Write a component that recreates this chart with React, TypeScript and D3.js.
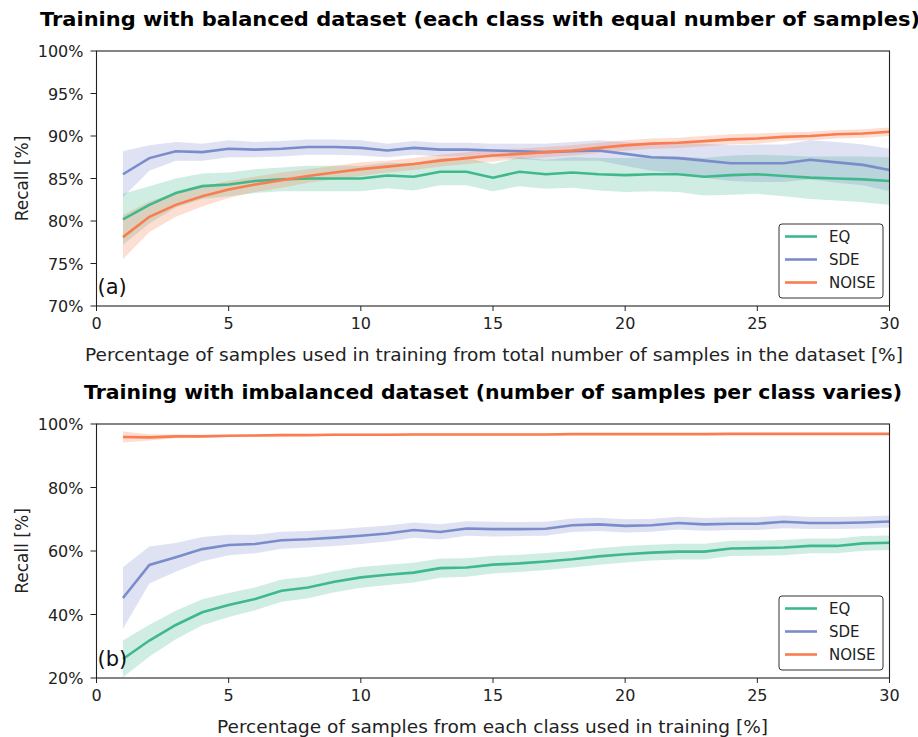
import React from "react";
import * as d3 from "d3";

// Percentage of samples used for training
const xs = d3.range(1, 31);

// Balanced dataset: mean recall [%] and spread per training fraction
const balEQ = [80.2, 81.9, 83.3, 84.1, 84.3, 84.7, 84.9, 85.0, 85.0, 85.0, 85.35, 85.2, 85.8, 85.8, 85.1,
  85.8, 85.5, 85.7, 85.5, 85.4, 85.5, 85.5, 85.2, 85.4, 85.5, 85.3, 85.1, 85.0, 84.9, 84.7];
const balEQStd = [3.0, 2.2, 1.7, 1.5, 1.4, 1.4, 1.4, 1.5, 1.5, 1.5, 1.5, 1.6, 1.6, 1.6, 1.6,
  1.7, 1.7, 1.8, 1.9, 2.0, 2.0, 2.1, 2.2, 2.3, 2.3, 2.4, 2.5, 2.6, 2.7, 2.8];
const balSDE = [85.5, 87.4, 88.2, 88.1, 88.5, 88.4, 88.5, 88.7, 88.7, 88.6, 88.3, 88.6, 88.4, 88.4, 88.3,
  88.2, 88.1, 88.2, 88.3, 87.9, 87.5, 87.4, 87.1, 86.8, 86.8, 86.8, 87.2, 86.9, 86.6, 86.0];
const balSDEStd = [2.7, 1.5, 1.1, 1.0, 1.0, 0.9, 0.9, 0.9, 0.9, 0.9, 0.8, 0.8, 0.8, 0.8, 0.8,
  0.9, 1.0, 1.1, 1.2, 1.4, 1.6, 1.8, 2.0, 2.1, 2.2, 2.2, 2.3, 2.4, 2.4, 2.5];
const balNOISE = [78.1, 80.5, 81.9, 82.9, 83.7, 84.3, 84.8, 85.3, 85.7, 86.1, 86.4, 86.7, 87.1, 87.4, 87.7,
  87.9, 88.1, 88.3, 88.6, 88.9, 89.1, 89.2, 89.4, 89.6, 89.7, 89.9, 90.0, 90.2, 90.3, 90.5];
const balNOISEStd = [2.6, 1.8, 1.4, 1.2, 1.0, 0.9, 0.9, 0.8, 0.8, 0.8, 0.7, 0.7, 0.7, 0.7, 0.7,
  0.6, 0.6, 0.6, 0.6, 0.6, 0.6, 0.6, 0.6, 0.6, 0.6, 0.5, 0.5, 0.5, 0.5, 0.5];

// Imbalanced dataset
const impEQ = [26.0, 31.8, 36.7, 40.7, 43.0, 44.9, 47.5, 48.5, 50.3, 51.7, 52.5, 53.2, 54.6, 54.8, 55.7,
  56.1, 56.7, 57.4, 58.3, 59.0, 59.5, 59.8, 59.8, 60.8, 60.9, 61.1, 61.6, 61.6, 62.4, 62.6];
const impEQStd = [5.8, 5.0, 4.5, 4.1, 3.8, 3.6, 3.5, 3.4, 3.3, 3.3, 3.2, 3.1, 3.0, 2.9, 2.8,
  2.7, 2.7, 2.6, 2.6, 2.6, 2.5, 2.5, 2.5, 2.4, 2.4, 2.4, 2.3, 2.3, 2.3, 2.3];
const impSDE = [45.2, 55.6, 58.0, 60.6, 61.9, 62.2, 63.4, 63.7, 64.2, 64.8, 65.5, 66.6, 66.0, 67.1, 66.9,
  66.9, 67.0, 68.1, 68.4, 67.9, 68.1, 68.8, 68.4, 68.6, 68.6, 69.2, 68.8, 68.8, 69.0, 69.3];
const impSDEStd = [9.7, 5.8, 4.5, 3.8, 3.2, 2.9, 2.7, 2.6, 2.6, 2.6, 2.5, 2.4, 2.4, 2.3, 2.3,
  2.2, 2.2, 2.1, 2.1, 2.1, 2.0, 2.0, 2.0, 2.0, 2.0, 2.0, 1.9, 1.9, 1.9, 1.9];
const impNOISE = [95.9, 95.8, 96.1, 96.1, 96.3, 96.4, 96.5, 96.5, 96.6, 96.6, 96.6, 96.7, 96.7, 96.7, 96.7,
  96.7, 96.7, 96.8, 96.8, 96.8, 96.8, 96.8, 96.8, 96.9, 96.9, 96.9, 96.9, 96.9, 96.9, 96.9];
const impNOISEStd = [1.7, 1.0, 0.6, 0.5, 0.4, 0.4, 0.4, 0.3, 0.3, 0.3, 0.3, 0.3, 0.3, 0.3, 0.3,
  0.3, 0.3, 0.3, 0.3, 0.3, 0.3, 0.3, 0.3, 0.3, 0.3, 0.3, 0.3, 0.3, 0.3, 0.3];

const seriesNames = ["EQ", "SDE", "NOISE"];
const colors = ["#3fb98b", "#7a8dca", "#f97d50"];

const xTicks = [0, 5, 10, 15, 20, 25, 30];
const topYTicks = [70, 75, 80, 85, 90, 95, 100];
const bottomYTicks = [20, 40, 60, 80, 100];

const FONT = "DejaVu Sans, sans-serif";

type Series = { name: string; mean: number[]; std: number[]; color: string };

function Panel(props: {
  id: string;
  top: number;
  bottom: number;
  yDomain: [number, number];
  yTicks: number[];
  series: Series[];
  tag: string;
  title: string;
  titleX: number;
  titleW: number;
  xlabel: string;
  xlabelX: number;
  xlabelW: number;
  legendY: number;
}) {
  const left = 96.5;
  const right = 889.5;
  const x = d3.scaleLinear().domain([0, 30]).range([left, right]);
  const y = d3.scaleLinear().domain(props.yDomain).range([props.bottom, props.top]);
  const line = d3
    .line<number>()
    .x((_, i) => x(xs[i]))
    .y((d) => y(d));
  const band = (s: Series) =>
    d3
      .area<number>()
      .x((_, i) => x(xs[i]))
      .y0((d, i) => y(d - s.std[i]))
      .y1((d, i) => y(d + s.std[i]))(s.mean) || "";

  const midY = (props.top + props.bottom) / 2;
  return (
    <g>
      <defs>
        <clipPath id={props.id}>
          <rect x={left} y={props.top} width={right - left} height={props.bottom - props.top} />
        </clipPath>
      </defs>
      <text
        x={props.titleX}
        y={props.top - 25}
        fontFamily={FONT}
        fontWeight="bold"
        fontSize={19}
        textLength={props.titleW}
        lengthAdjust="spacingAndGlyphs"
      >
        {props.title}
      </text>
      <g clipPath={`url(#${props.id})`}>
        {props.series.map((s) => (
          <path key={s.name + "b"} d={band(s)} fill={s.color} fillOpacity={0.25} stroke="none" />
        ))}
        {props.series.map((s) => (
          <path key={s.name + "l"} d={line(s.mean) || ""} fill="none" stroke={s.color} strokeWidth={2.6} />
        ))}
      </g>
      <rect
        x={left}
        y={props.top}
        width={right - left}
        height={props.bottom - props.top}
        fill="none"
        stroke="#222"
        strokeWidth={1.1}
      />
      {xTicks.map((t) => (
        <g key={"x" + t}>
          <line x1={x(t)} x2={x(t)} y1={props.bottom} y2={props.bottom + 5} stroke="#222" strokeWidth={1} />
          <text x={x(t)} y={props.bottom + 22.5} textAnchor="middle" fontFamily={FONT} fontSize={16} fill="#222">
            {t}
          </text>
        </g>
      ))}
      {props.yTicks.map((t) => (
        <g key={"y" + t}>
          <line x1={left - 6} x2={left} y1={y(t)} y2={y(t)} stroke="#222" strokeWidth={1} />
          <text x={left - 13} y={y(t) + 6} textAnchor="end" fontFamily={FONT} fontSize={16} fill="#222">
            {t}%
          </text>
        </g>
      ))}
      <text x={left + 1} y={props.bottom - 12} fontFamily={FONT} fontSize={21} fill="#111">
        {props.tag}
      </text>
      <text
        transform={`translate(28,${midY}) rotate(-90)`}
        textAnchor="middle"
        fontFamily={FONT}
        fontSize={17}
        fill="#222"
      >
        Recall [%]
      </text>
      <text
        x={props.xlabelX}
        y={props.bottom + 55}
        fontFamily={FONT}
        fontSize={18}
        fill="#222"
        textLength={props.xlabelW}
        lengthAdjust="spacingAndGlyphs"
      >
        {props.xlabel}
      </text>
      <g transform={`translate(779,${props.legendY})`}>
        <rect x={0} y={0} width={104} height={74} rx={3} fill="#fff" fillOpacity={0.85} stroke="#333" strokeWidth={1} />
        {props.series.map((s, i) => (
          <g key={s.name + "leg"} transform={`translate(0,${12.5 + i * 23})`}>
            <line x1={6} x2={38} y1={0} y2={0} stroke={s.color} strokeWidth={2.6} />
            <text x={50} y={5.5} fontFamily={FONT} fontSize={15} fill="#222">
              {s.name}
            </text>
          </g>
        ))}
      </g>
    </g>
  );
}

export default function App() {
  const balanced: Series[] = [
    { name: seriesNames[0], mean: balEQ, std: balEQStd, color: colors[0] },
    { name: seriesNames[1], mean: balSDE, std: balSDEStd, color: colors[1] },
    { name: seriesNames[2], mean: balNOISE, std: balNOISEStd, color: colors[2] },
  ];
  const imbalanced: Series[] = [
    { name: seriesNames[0], mean: impEQ, std: impEQStd, color: colors[0] },
    { name: seriesNames[1], mean: impSDE, std: impSDEStd, color: colors[1] },
    { name: seriesNames[2], mean: impNOISE, std: impNOISEStd, color: colors[2] },
  ];
  return (
    <svg
      width={918}
      height={737}
      style={{ position: "absolute", left: 0, top: 0, background: "#fff" }}
    >
      <rect width={918} height={737} fill="#fff" />
      <Panel
        id="clipA"
        top={51}
        bottom={306}
        yDomain={[70, 100]}
        yTicks={topYTicks}
        series={balanced}
        tag="(a)"
        title="Training with balanced dataset (each class with equal number of samples)"
        titleX={40}
        titleW={880}
        xlabel="Percentage of samples used in training from total number of samples in the dataset [%]"
        xlabelX={85}
        xlabelW={818}
        legendY={224}
      />
      <Panel
        id="clipB"
        top={424}
        bottom={678}
        yDomain={[20, 100]}
        yTicks={bottomYTicks}
        series={imbalanced}
        tag="(b)"
        title="Training with imbalanced dataset (number of samples per class varies)"
        titleX={84}
        titleW={818}
        xlabel="Percentage of samples from each class used in training [%]"
        xlabelX={217}
        xlabelW={551}
        legendY={596}
      />
    </svg>
  );
}
